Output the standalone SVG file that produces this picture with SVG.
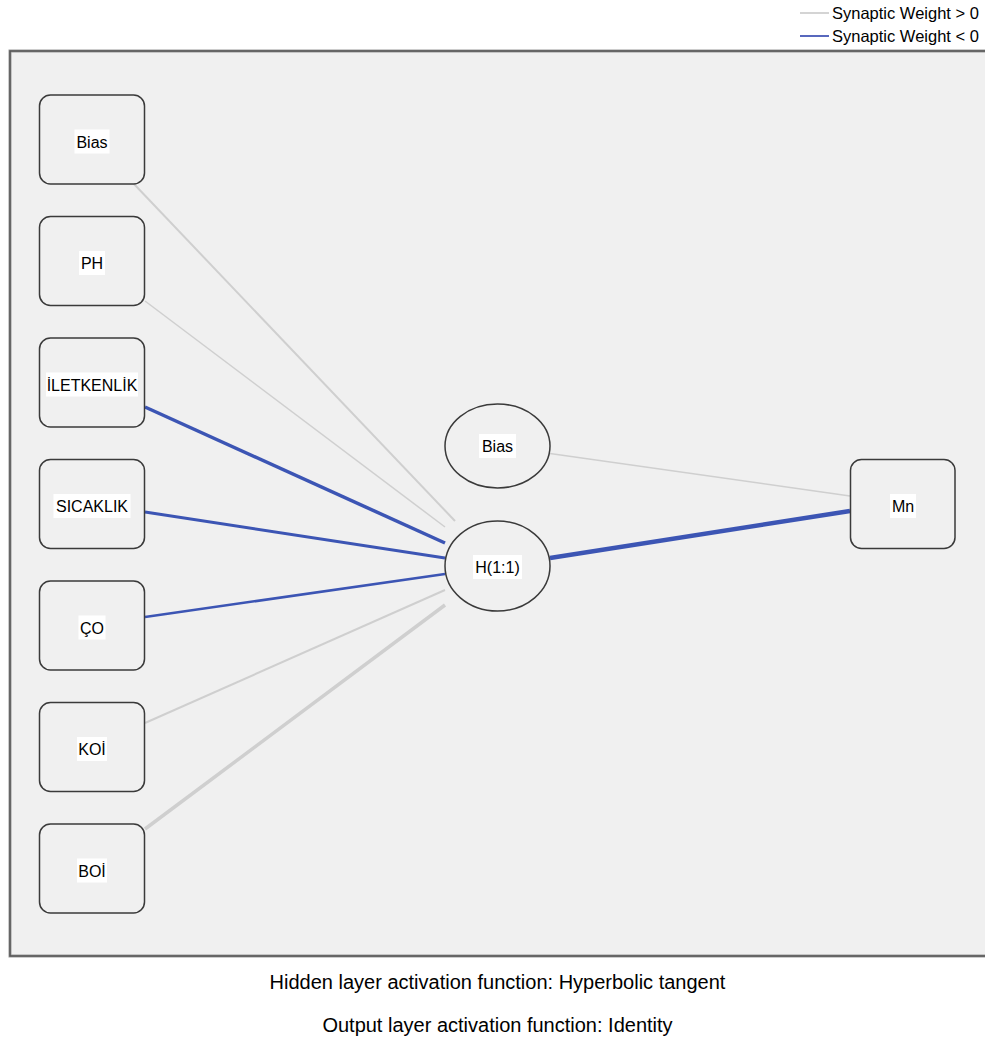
<svg xmlns="http://www.w3.org/2000/svg" width="985" height="1043" viewBox="0 0 985 1043">
  <style>
    text { font-family: "Liberation Sans", Arial, sans-serif; fill: #000; }
    .lbl { font-size: 16px; text-anchor: middle; }
    .lblbg { fill: #ffffff; }
    .box { fill: #f0f0f0; stroke: #3a3a3a; stroke-width: 1.5; }
    .pos { stroke: #cfcfcf; fill: none; stroke-linecap: butt; }
    .neg { stroke: #3c55b4; fill: none; stroke-linecap: butt; }
    .foot { font-size: 20px; text-anchor: middle; }
    .leg { font-size: 16.5px; }
  </style>

  <rect x="0" y="0" width="985" height="1043" fill="#ffffff"/>

  <!-- legend -->
  <g id="legend">
    <line x1="800" y1="13" x2="829" y2="13" stroke="#d4d4d4" stroke-width="2"/>
    <text class="leg" x="832" y="19">Synaptic Weight &gt; 0</text>
    <line x1="800" y1="36" x2="829" y2="36" stroke="#5868bd" stroke-width="2"/>
    <text class="leg" x="832" y="42">Synaptic Weight &lt; 0</text>
  </g>

  <!-- plot frame -->
  <g id="frame">
    <rect x="10" y="51" width="1000" height="905" fill="#f0f0f0" stroke="#9a9a9a" stroke-width="3"/>
    <rect x="10" y="51" width="1000" height="905" fill="none" stroke="#555555" stroke-width="1.5"/>
  </g>

  <!-- synaptic weights -->
  <g id="connectors">
    <line class="pos" x1="134" y1="184" x2="455" y2="521" stroke-width="2"/>
    <line class="pos" x1="145" y1="301" x2="445" y2="527" stroke-width="1.5"/>
    <line class="neg" x1="145" y1="407" x2="445" y2="543" stroke-width="3.5"/>
    <line class="neg" x1="145" y1="512" x2="445" y2="558" stroke-width="3"/>
    <line class="neg" x1="145" y1="617" x2="445" y2="574" stroke-width="2.5"/>
    <line class="pos" x1="145" y1="723" x2="445" y2="590" stroke-width="2"/>
    <line class="pos" x1="145" y1="829" x2="445" y2="605" stroke-width="3.5"/>
    <line class="pos" x1="550" y1="453.5" x2="850" y2="496" stroke-width="1.5"/>
    <line class="neg" x1="550" y1="558" x2="850" y2="511" stroke-width="4.5"/>
  </g>

  <!-- input layer -->
  <g id="in-bias">
    <rect class="box" x="39.5" y="95" width="105" height="89" rx="11"/>
    <rect class="lblbg" x="74.5" y="129.5" width="35" height="24"/>
    <text class="lbl" x="92" y="147.5">Bias</text>
  </g>
  <g id="in-ph">
    <rect class="box" x="39.5" y="216.5" width="105" height="89" rx="11"/>
    <rect class="lblbg" x="79" y="251" width="26" height="24"/>
    <text class="lbl" x="92" y="269">PH</text>
  </g>
  <g id="in-iletkenlik">
    <rect class="box" x="39.5" y="338" width="105" height="89" rx="11"/>
    <rect class="lblbg" x="46" y="372.5" width="92" height="24"/>
    <text class="lbl" x="92" y="390.5">İLETKENLİK</text>
  </g>
  <g id="in-sicaklik">
    <rect class="box" x="39.5" y="459.5" width="105" height="89" rx="11"/>
    <rect class="lblbg" x="53.5" y="494" width="77" height="24"/>
    <text class="lbl" x="92" y="512">SICAKLIK</text>
  </g>
  <g id="in-co">
    <rect class="box" x="39.5" y="581" width="105" height="89" rx="11"/>
    <rect class="lblbg" x="78.5" y="615.5" width="27" height="24"/>
    <text class="lbl" x="92" y="633.5">ÇO</text>
  </g>
  <g id="in-koi">
    <rect class="box" x="39.5" y="702.5" width="105" height="89" rx="11"/>
    <rect class="lblbg" x="77" y="737" width="30" height="24"/>
    <text class="lbl" x="92" y="755">KOİ</text>
  </g>
  <g id="in-boi">
    <rect class="box" x="39.5" y="824" width="105" height="89" rx="11"/>
    <rect class="lblbg" x="77" y="858.5" width="30" height="24"/>
    <text class="lbl" x="92" y="876.5">BOİ</text>
  </g>

  <!-- hidden layer -->
  <g id="hid-bias">
    <ellipse class="box" cx="497.5" cy="446" rx="52.5" ry="42"/>
    <rect class="lblbg" x="479" y="434" width="37" height="24"/>
    <text class="lbl" x="497.5" y="452">Bias</text>
  </g>
  <g id="hid-h11">
    <ellipse class="box" cx="497.5" cy="566" rx="52.5" ry="45"/>
    <rect class="lblbg" x="473" y="555" width="49" height="24"/>
    <text class="lbl" x="497.5" y="573">H(1:1)</text>
  </g>

  <!-- output layer -->
  <g id="out-mn">
    <rect class="box" x="850.5" y="459.5" width="104.5" height="89" rx="11"/>
    <rect class="lblbg" x="890" y="494" width="26" height="24"/>
    <text class="lbl" x="903" y="512">Mn</text>
  </g>

  <!-- activation notes -->
  <g id="footer">
    <text class="foot" x="497.5" y="989">Hidden layer activation function: Hyperbolic tangent</text>
    <text class="foot" x="497.5" y="1032">Output layer activation function: Identity</text>
  </g>
</svg>
